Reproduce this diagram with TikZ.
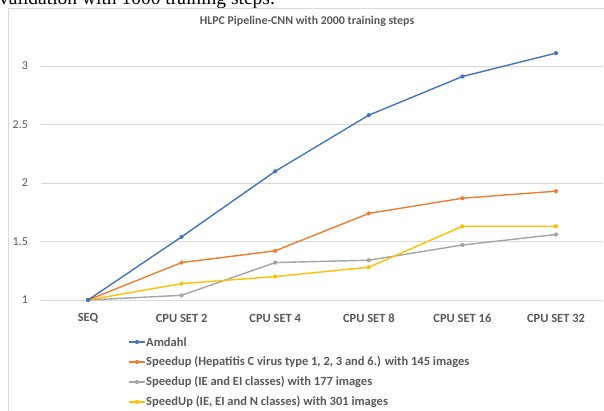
\documentclass[tikz,border=0pt]{standalone}
\usepackage{fontspec}
\setmainfont{Carlito}
\newfontfamily\pagefont{Liberation Serif}
\definecolor{amdahl}{HTML}{4472C4}
\definecolor{hepc}{HTML}{ED7D31}
\definecolor{ieei}{HTML}{A5A5A5}
\definecolor{ieein}{HTML}{FFC000}
\definecolor{gridgray}{HTML}{D9D9D9}
\definecolor{labelgray}{HTML}{595959}
\newcommand{\markradius}{2.1pt}
% every series starts at SEQ = 1
\newcommand{\series}[2]{%
    \draw[line width=1.4pt,line join=round,#1] (0,0) \foreach \cx/\cy in {#2} { -- (\cx,\cy) };
    \fill[#1] (0,0) circle (\markradius);
    \foreach \cx/\cy in {#2}
        \fill[#1] (\cx,\cy) circle (\markradius);
}
\newcommand{\legendentry}[3]{%
    \draw[line width=1.4pt,#1] (129,#2) -- (145,#2);
    \fill[#1] (137,#2) circle (\markradius);
    \node[legendtext] at (146,#2) {#3};
}
\tikzset{
    ticklabel/.style={text=labelgray,font=\fontsize{12}{14}\selectfont,inner sep=0pt},
    catlabel/.style={text=labelgray,font=\fontsize{12.5}{15}\selectfont\bfseries,inner sep=0pt},
    legendtext/.style={anchor=west,text=labelgray,font=\fontsize{12.5}{15}\selectfont\bfseries,inner sep=0pt},
}

\begin{document}
\begin{tikzpicture}[x=1pt,y=-1pt]

\useasboundingbox (0,0) rectangle (604,410);
\clip (0,0) rectangle (604,410);

% line of page text above the chart (cut off)
\node[anchor=base west,inner sep=0pt,font=\pagefont\fontsize{19.5}{24}\selectfont] (pagetext) at (-1,4) {validation with 1000 training steps.};

% chart frame
\fill[white] (8,8) rectangle (620,420);
\draw[gridgray] (8,420) -- (8,8) -- (620,8);

% title
\node[text=labelgray,font=\fontsize{11.9}{14}\selectfont\bfseries] (title) at (307,21) {HLPC Pipeline-CNN with 2000 training steps};

% plot area: x = category index, y = speedup - 1
\begin{scope}[shift={(88,300)},x=93.6pt,y=117pt]

% grid and value labels
\foreach \v in {1,1.5,2,2.5,3} {
    \draw[gridgray] (-0.5,\v-1) -- (5.5,\v-1);
    \node[ticklabel,anchor=east] at (-0.64,\v-1) {\v};
}

% category labels
\foreach \cat [count=\i from 0] in {SEQ,CPU SET 2,CPU SET 4,CPU SET 8,CPU SET 16,CPU SET 32}
    \node[catlabel] (cat\i) at (\i,-0.156) {\cat};

% data series
\series{ieei}{1/0.04,2/0.32,3/0.34,4/0.47,5/0.56}
\series{ieein}{1/0.14,2/0.20,3/0.28,4/0.63,5/0.63}
\series{hepc}{1/0.32,2/0.42,3/0.74,4/0.87,5/0.93}
\series{amdahl}{1/0.54,2/1.10,3/1.58,4/1.91,5/2.11}

\end{scope}

% legend
\legendentry{amdahl}{342}{Amdahl}
\legendentry{hepc}{362}{Speedup (Hepatitis C virus type 1, 2, 3 and 6.) with 145 images}
\legendentry{ieei}{382}{Speedup (IE and EI classes) with 177 images}
\legendentry{ieein}{402}{SpeedUp (IE, EI and N classes) with 301 images}

\end{tikzpicture}
\end{document}
